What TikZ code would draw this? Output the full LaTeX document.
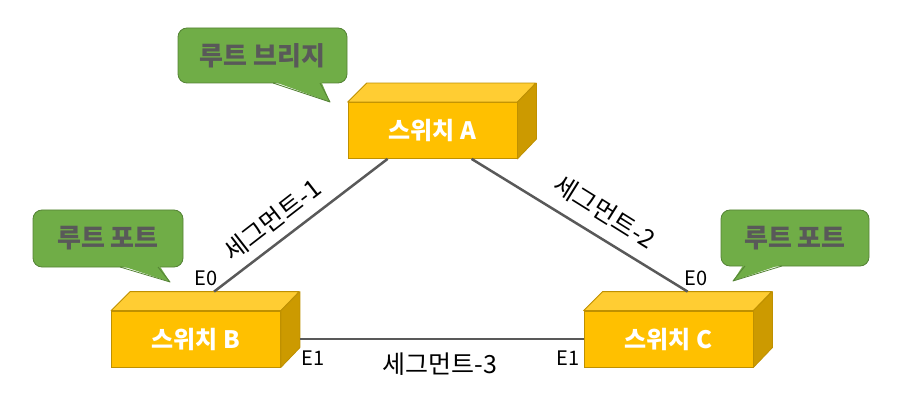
\documentclass[tikz,border=0pt]{standalone}
\usepackage{fontspec}
\setmainfont{Noto Sans CJK KR}
\usetikzlibrary{calc}
\definecolor{swfront}{HTML}{FFC000}
\definecolor{swtopc}{HTML}{FFCD33}
\definecolor{swside}{HTML}{CC9A00}
\definecolor{swedge}{HTML}{BF9000}
\definecolor{bubblefill}{HTML}{70AD47}
\definecolor{bubbleedge}{HTML}{548235}
\definecolor{darkgray}{HTML}{595959}
\tikzset{
  switch/.style={rectangle, fill=swfront, draw=swedge, line width=0.8pt,
    minimum width=169pt, minimum height=56pt, inner sep=0pt,
    text=white, font=\bfseries\fontsize{24}{28}\selectfont},
  swtop/.style={fill=swtopc, draw=swedge, line width=0.8pt, line join=round},
  swright/.style={fill=swside, draw=swedge, line width=0.8pt, line join=round},
  bubble/.style={rectangle, rounded corners=9pt, fill=bubblefill, draw=bubbleedge,
    line width=0.8pt, inner sep=0pt, text=darkgray,
    font=\bfseries\fontsize{26}{30}\selectfont},
  link/.style={draw=darkgray, line width=2.5pt},
  portlabel/.style={font=\fontsize{20}{22}\selectfont, inner sep=0pt},
  seglabel/.style={font=\fontsize{25}{28}\selectfont, inner sep=0pt},
}
\begin{document}
\begin{tikzpicture}[x=1pt, y=-1pt]
  \useasboundingbox (0,0) rectangle (902,414);

  % switches
  \node[switch] (swA) at (432.5,130.5) {스위치 A};
  \node[switch] (swB) at (196,339) {스위치 B};
  \node[switch] (swC) at (668.5,339) {스위치 C};
  \foreach \sw in {swA,swB,swC} {
    \filldraw[swtop] (\sw.north west) -- ++(19,-19) -- ++(169,0) -- (\sw.north east) -- cycle;
    \filldraw[swright] (\sw.north east) -- ++(19,-19) -- ++(0,56) -- (\sw.south east) -- cycle;
  }

  % ports
  \coordinate (A-P1) at ($(swA.south west)+(40,0)$);
  \coordinate (A-P2) at ($(swA.south west)+(124,0)$);
  \coordinate (B-E0) at ($(swB.north west)+(103,-19)$);
  \coordinate (B-E1) at ($(swB.east)+(19,0)$);
  \coordinate (C-E0) at ($(swC.north west)+(104,-19)$);
  \coordinate (C-E1) at (swC.west);

  % segments
  \draw[link] (B-E0) -- (A-P1);
  \draw[link] (A-P2) -- (C-E0);
  \draw[link] (B-E1) -- (C-E1);
  \node[seglabel, rotate=37.8] (seg1) at (272,220) {세그먼트-1};
  \node[seglabel, rotate=-32] (seg2) at (605,212) {세그먼트-2};
  \node[seglabel] (seg3) at (440,364) {세그먼트-3};

  \node[portlabel] (lbE0) at (206,278) {E0};
  \node[portlabel] (lbE1) at (313,358) {E1};
  \node[portlabel] (lcE0) at (696,278) {E0};
  \node[portlabel] (lcE1) at (568,358) {E1};

  % callouts
  \node[bubble, minimum width=169pt, minimum height=55pt] (rootbr) at (262.5,55.5) {루트 브리지};
  \fill[bubblefill] (272,81) -- (330,102) -- (321,81) -- cycle;
  \draw[bubbleedge, line width=0.8pt, line join=round] (273,83) -- (330,102) -- (320,83);

  \node[bubble, minimum width=150pt, minimum height=57pt] (rpB) at (108,238.5) {루트 포트};
  \fill[bubblefill] (119,265) -- (170,282) -- (159,265) -- cycle;
  \draw[bubbleedge, line width=0.8pt, line join=round] (120,267) -- (170,282) -- (158,267);

  \node[bubble, minimum width=148pt, minimum height=56pt] (rpC) at (795,238) {루트 포트};
  \fill[bubblefill] (744,264) -- (733,281) -- (783,264) -- cycle;
  \draw[bubbleedge, line width=0.8pt, line join=round] (745,266) -- (733,281) -- (782,266);
\end{tikzpicture}
\end{document}
